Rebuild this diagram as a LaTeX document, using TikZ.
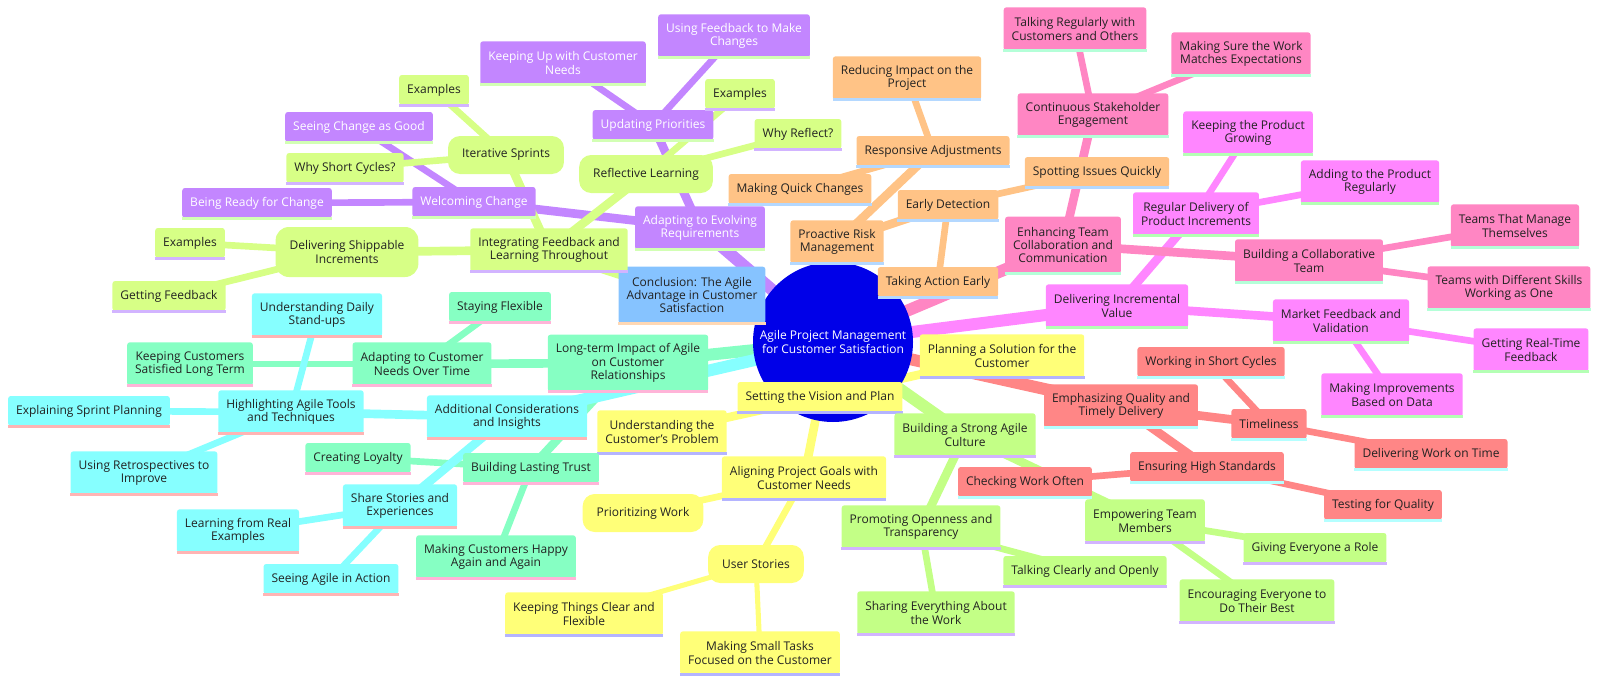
\documentclass[tikz,border=0pt]{standalone}
\usepackage{fontspec}
\setmainfont{Open Sans}
\usetikzlibrary{backgrounds}
\newcommand\mmfont{\fontsize{9pt}{10pt}\selectfont}
\definecolor{cRoot}{RGB}{0,0,232}
\definecolor{cY}{RGB}{255,255,120}
\definecolor{cGA}{RGB}{215,255,134}
\definecolor{cGB}{RGB}{195,255,134}
\definecolor{cP}{RGB}{195,134,255}
\definecolor{cM}{RGB}{255,134,255}
\definecolor{cK}{RGB}{255,134,195}
\definecolor{cR}{RGB}{255,134,134}
\definecolor{cT}{RGB}{134,255,195}
\definecolor{cC}{RGB}{134,255,255}
\definecolor{cB}{RGB}{134,195,255}
\definecolor{cO}{RGB}{255,195,134}
\definecolor{lY}{RGB}{180,180,255}
\definecolor{lG}{RGB}{210,180,255}
\definecolor{lP}{RGB}{210,255,180}
\definecolor{lM}{RGB}{180,255,180}
\definecolor{lK}{RGB}{180,255,216}
\definecolor{lR}{RGB}{180,255,255}
\definecolor{lT}{RGB}{255,180,216}
\definecolor{lC}{RGB}{255,180,180}
\definecolor{lB}{RGB}{255,216,180}
\definecolor{lO}{RGB}{180,216,255}
\definecolor{txt}{RGB}{34,34,34}
\begin{document}
\begin{tikzpicture}[x=0.75pt,y=-0.75pt,
  base/.style={rectangle, rounded corners=2pt, inner xsep=6pt, inner ysep=0pt,
    minimum height=22.5pt, align=center, font=\mmfont, text=txt},
  two/.style={minimum height=32.5pt},
  three/.style={minimum height=42.5pt},
  rnd/.style={rounded corners=9pt, inner xsep=10.5pt, minimum height=28.5pt},
  rndtwo/.style={rounded corners=10pt, inner xsep=10.5pt, minimum height=37.5pt},
  uline/.style={append after command={(\tikzlastnode.south west) edge[draw=#1, line width=2.25pt] (\tikzlastnode.south east)}},
  sY/.style={base, fill=cY, uline=lY},
  sYr/.style={base, fill=cY},
  sGA/.style={base, fill=cGA, uline=lG},
  sGAr/.style={base, fill=cGA},
  sGB/.style={base, fill=cGB, uline=lG},
  sP/.style={base, fill=cP, text=white, uline=lP},
  sM/.style={base, fill=cM, uline=lM},
  sK/.style={base, fill=cK, uline=lK},
  sR/.style={base, fill=cR, uline=lR},
  sT/.style={base, fill=cT, uline=lT},
  sC/.style={base, fill=cC, uline=lC},
  sB/.style={base, fill=cB, uline=lB},
  sO/.style={base, fill=cO, uline=lO},
  rootnode/.style={circle, fill=cRoot, text=white, minimum size=120pt, inner sep=0pt, align=center, font=\mmfont},
  e0/.style={line width=9pt},
  e1/.style={line width=6.5pt},
  e2/.style={line width=5pt},
  e3/.style={line width=3.8pt}
]
\useasboundingbox (0,0) rectangle (1600,682);

% root
\node[rootnode] (root) at (833,342) {Agile Project Management\\for Customer Satisfaction};

% yellow section
\node[sY] (vis) at (820,397) {Setting the Vision and Plan};
\node[sY,two] (plan) at (1002,356) {Planning a Solution for the\\Customer};
\node[sY,two] (und) at (662,432) {Understanding the\\Customer's Problem};
\node[sY,two] (ali) at (804,478) {Aligning Project Goals with\\Customer Needs};
\node[sYr,rnd] (pri) at (643,513) {Prioritizing Work};
\node[sYr,rnd] (ust) at (756,564) {User Stories};
\node[sY,two] (kee) at (584,614) {Keeping Things Clear and\\Flexible};
\node[sY,two] (sma) at (760,653) {Making Small Tasks\\Focused on the Customer};

% green B section
\node[sGB,two] (bsc) at (965,435) {Building a Strong Agile\\Culture};
\node[sGB,two] (pro) at (921,527) {Promoting Openness and\\Transparency};
\node[sGB,two] (emp) at (1145,521) {Empowering Team\\Members};
\node[sGB] (tco) at (1085,571) {Talking Clearly and Openly};
\node[sGB,two] (sew) at (936,613) {Sharing Everything About\\the Work};
\node[sGB] (ger) at (1315,548) {Giving Everyone a Role};
\node[sGB,two] (enc) at (1257,601) {Encouraging Everyone to\\Do Their Best};

% purple section
\node[sP,two] (ada) at (700,228) {Adapting to Evolving\\Requirements};
\node[sP] (wel) at (474,202) {Welcoming Change};
\node[sP] (upd) at (653,125) {Updating Priorities};
\node[sP] (see) at (359,127) {Seeing Change as Good};
\node[sP] (brc) at (257,203) {Being Ready for Change};
\node[sP,two] (kup) at (563,63) {Keeping Up with Customer\\Needs};
\node[sP,two] (ufm) at (734,36) {Using Feedback to Make\\Changes};

% magenta section
\node[sM,two] (div) at (1117,306) {Delivering Incremental\\Value};
\node[sM,two] (rdp) at (1196,214) {Regular Delivery of\\Product Increments};
\node[sM,two] (mfv) at (1341,321) {Market Feedback and\\Validation};
\node[sM,two] (kpg) at (1248,133) {Keeping the Product\\Growing};
\node[sM,two] (apr) at (1370,182) {Adding to the Product\\Regularly};
\node[sM,two] (grt) at (1531,350) {Getting Real-Time\\Feedback};
\node[sM,two] (mib) at (1392,395) {Making Improvements\\Based on Data};

% pink section
\node[sK,three] (etc) at (1063,245) {Enhancing Team\\Collaboration and\\Communication};
\node[sK,two] (cse) at (1093,115) {Continuous Stakeholder\\Engagement};
\node[sK,two] (bct) at (1309,261) {Building a Collaborative\\Team};
\node[sK,two] (trc) at (1075,29) {Talking Regularly with\\Customers and Others};
\node[sK,two] (msw) at (1241,54) {Making Sure the Work\\Matches Expectations};
\node[sK,two] (tmt) at (1515,226) {Teams That Manage\\Themselves};
\node[sK,two] (tds) at (1509,288) {Teams with Different Skills\\Working as One};

% red section
\node[sR,two] (eqt) at (1121,406) {Emphasizing Quality and\\Timely Delivery};
\node[sR] (tim) at (1269,424) {Timeliness};
\node[sR] (ehs) at (1207,467) {Ensuring High Standards};
\node[sR] (wsc) at (1211,362) {Working in Short Cycles};
\node[sR] (dwt) at (1431,454) {Delivering Work on Time};
\node[sR] (cwo) at (1025,482) {Checking Work Often};
\node[sR] (tfq) at (1383,505) {Testing for Quality};

% mint section
\node[sT,three] (lti) at (628,363) {Long-term Impact of Agile\\on Customer\\Relationships};
\node[sT,two] (acn) at (422,364) {Adapting to Customer\\Needs Over Time};
\node[sT] (blt) at (531,468) {Building Lasting Trust};
\node[sT] (sfl) at (500,307) {Staying Flexible};
\node[sT,two] (kcs) at (190,364) {Keeping Customers\\Satisfied Long Term};
\node[sT] (clo) at (358,458) {Creating Loyalty};
\node[sT,two] (mch) at (496,557) {Making Customers Happy\\Again and Again};

% cyan section
\node[sC,two] (aci) at (507,417) {Additional Considerations\\and Insights};
\node[sC,two] (hat) at (291,412) {Highlighting Agile Tools\\and Techniques};
\node[sC,two] (ssx) at (400,506) {Share Stories and\\Experiences};
\node[sC,two] (uds) at (317,315) {Understanding Daily\\Stand-ups};
\node[sC] (esp) at (89,411) {Explaining Sprint Planning};
\node[sC,two] (urt) at (144,473) {Using Retrospectives to\\Improve};
\node[sC,two] (lre) at (238,531) {Learning from Real\\Examples};
\node[sC] (sai) at (331,579) {Seeing Agile in Action};

% light blue
\node[sB,three] (con) at (692,295) {Conclusion: The Agile\\Advantage in Customer\\Satisfaction};

% green A section
\node[sGA,two] (ifl) at (549,250) {Integrating Feedback and\\Learning Throughout};
\node[sGAr,rnd] (its) at (506,155) {Iterative Sprints};
\node[sGAr,rnd] (rfl) at (646,174) {Reflective Learning};
\node[sGAr,rndtwo] (dsi) at (347,252) {Delivering Shippable\\Increments};
\node[sGA] (exa) at (434,90) {Examples};
\node[sGA] (wsy) at (345,168) {Why Short Cycles?};
\node[sGA] (exc) at (740,94) {Examples};
\node[sGA] (wrf) at (798,134) {Why Reflect?};
\node[sGA] (exb) at (190,243) {Examples};
\node[sGA] (gfb) at (169,296) {Getting Feedback};

% orange section
\node[sO,two] (prm) at (837,242) {Proactive Risk\\Management};
\node[sO] (edt) at (948,205) {Early Detection};
\node[sO] (rad) at (933,151) {Responsive Adjustments};
\node[sO] (siq) at (1097,172) {Spotting Issues Quickly};
\node[sO] (tae) at (938,282) {Taking Action Early};
\node[sO,two] (rip) at (907,78) {Reducing Impact on the\\Project};
\node[sO] (mqc) at (800,189) {Making Quick Changes};

\begin{scope}[on background layer]
% yellow
\draw[e0,cY] (root.center) -- (vis.center);
\draw[e1,cY] (vis.center) -- (plan.center);
\draw[e1,cY] (vis.center) -- (und.center);
\draw[e1,cY] (vis.center) -- (ali.center);
\draw[e2,cY] (ali.center) -- (pri.center);
\draw[e2,cY] (ali.center) -- (ust.center);
\draw[e3,cY] (ust.center) -- (kee.center);
\draw[e3,cY] (ust.center) -- (sma.center);
% green B
\draw[e0,cGB] (root.center) -- (bsc.center);
\draw[e1,cGB] (bsc.center) -- (pro.center);
\draw[e1,cGB] (bsc.center) -- (emp.center);
\draw[e2,cGB] (pro.center) -- (tco.center);
\draw[e2,cGB] (pro.center) -- (sew.center);
\draw[e2,cGB] (emp.center) -- (ger.center);
\draw[e2,cGB] (emp.center) -- (enc.center);
% purple
\draw[e0,cP] (root.center) -- (ada.center);
\draw[e1,cP] (ada.center) -- (wel.center);
\draw[e1,cP] (ada.center) -- (upd.center);
\draw[e2,cP] (wel.center) -- (see.center);
\draw[e2,cP] (wel.center) -- (brc.center);
\draw[e2,cP] (upd.center) -- (kup.center);
\draw[e2,cP] (upd.center) -- (ufm.center);
% magenta
\draw[e0,cM] (root.center) -- (div.center);
\draw[e1,cM] (div.center) -- (rdp.center);
\draw[e1,cM] (div.center) -- (mfv.center);
\draw[e2,cM] (rdp.center) -- (kpg.center);
\draw[e2,cM] (rdp.center) -- (apr.center);
\draw[e2,cM] (mfv.center) -- (grt.center);
\draw[e2,cM] (mfv.center) -- (mib.center);
% pink
\draw[e0,cK] (root.center) -- (etc.center);
\draw[e1,cK] (etc.center) -- (cse.center);
\draw[e1,cK] (etc.center) -- (bct.center);
\draw[e2,cK] (cse.center) -- (trc.center);
\draw[e2,cK] (cse.center) -- (msw.center);
\draw[e2,cK] (bct.center) -- (tmt.center);
\draw[e2,cK] (bct.center) -- (tds.center);
% red
\draw[e0,cR] (root.center) -- (eqt.center);
\draw[e1,cR] (eqt.center) -- (tim.center);
\draw[e1,cR] (eqt.center) -- (ehs.center);
\draw[e2,cR] (tim.center) -- (wsc.center);
\draw[e2,cR] (tim.center) -- (dwt.center);
\draw[e2,cR] (ehs.center) -- (cwo.center);
\draw[e2,cR] (ehs.center) -- (tfq.center);
% mint
\draw[e0,cT] (root.center) -- (lti.center);
\draw[e1,cT] (lti.center) -- (acn.center);
\draw[e1,cT] (lti.center) -- (blt.center);
\draw[e2,cT] (acn.center) -- (sfl.center);
\draw[e2,cT] (acn.center) -- (kcs.center);
\draw[e2,cT] (blt.center) -- (clo.center);
\draw[e2,cT] (blt.center) -- (mch.center);
% cyan
\draw[e0,cC] (root.center) -- (aci.center);
\draw[e1,cC] (aci.center) -- (hat.center);
\draw[e1,cC] (aci.center) -- (ssx.center);
\draw[e2,cC] (hat.center) -- (uds.center);
\draw[e2,cC] (hat.center) -- (esp.center);
\draw[e2,cC] (hat.center) -- (urt.center);
\draw[e2,cC] (ssx.center) -- (lre.center);
\draw[e2,cC] (ssx.center) -- (sai.center);
% light blue
\draw[e0,cB] (root.center) -- (con.center);
% green A
\draw[e0,cGA] (root.center) -- (ifl.center);
\draw[e1,cGA] (ifl.center) -- (its.center);
\draw[e1,cGA] (ifl.center) -- (rfl.center);
\draw[e1,cGA] (ifl.center) -- (dsi.center);
\draw[e2,cGA] (its.center) -- (exa.center);
\draw[e2,cGA] (its.center) -- (wsy.center);
\draw[e2,cGA] (rfl.center) -- (exc.center);
\draw[e2,cGA] (rfl.center) -- (wrf.center);
\draw[e2,cGA] (dsi.center) -- (exb.center);
\draw[e2,cGA] (dsi.center) -- (gfb.center);
% orange
\draw[e0,cO] (root.center) -- (prm.center);
\draw[e1,cO] (prm.center) -- (edt.center);
\draw[e1,cO] (prm.center) -- (rad.center);
\draw[e2,cO] (edt.center) -- (siq.center);
\draw[e2,cO] (edt.center) -- (tae.center);
\draw[e2,cO] (rad.center) -- (rip.center);
\draw[e2,cO] (rad.center) -- (mqc.center);
\end{scope}
\end{tikzpicture}
\end{document}
